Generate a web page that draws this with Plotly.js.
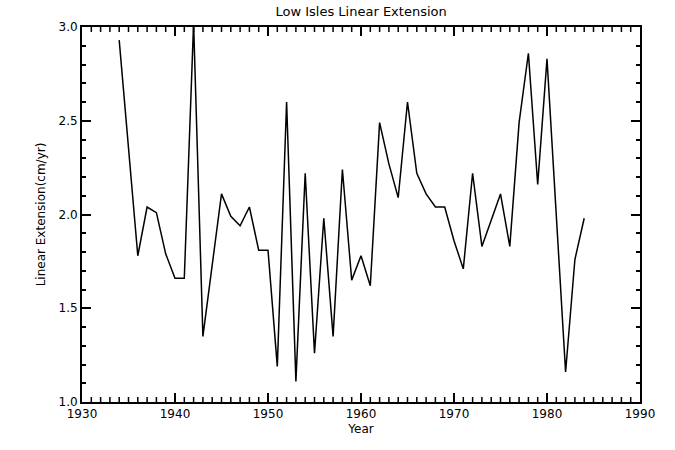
<!DOCTYPE html>
<html>
<head>
<meta charset="utf-8">
<script src="https://cdn.plot.ly/plotly-3.0.1.min.js"></script>
<style>html,body{margin:0;padding:0;background:#fff;}#chart{width:675px;height:450px;}</style>
</head>
<body>
<div id="chart"></div>
<script>
var years = [1934,1935,1936,1937,1938,1939,1940,1941,1942,1943,1944,1945,1946,1947,1948,1949,1950,
             1951,1952,1953,1954,1955,1956,1957,1958,1959,1960,1961,1962,1963,1964,1965,1966,1967,
             1968,1969,1970,1971,1972,1973,1974,1975,1976,1977,1978,1979,1980,1981,1982,1983,1984];
var extension = [2.93,2.36,1.78,2.04,2.01,1.79,1.66,1.66,3.02,1.35,1.73,2.11,1.99,1.94,2.04,1.81,1.81,
                 1.19,2.60,1.11,2.22,1.26,1.98,1.35,2.24,1.65,1.78,1.62,2.49,2.27,2.09,2.60,2.22,2.11,
                 2.04,2.04,1.86,1.71,2.22,1.83,1.97,2.11,1.83,2.49,2.86,2.16,2.83,1.98,1.16,1.76,1.98];

// minor tick positions on the x axis (one per year, skipping the labelled decades)
var minorYears = [];
for (var yr = 1931; yr < 1990; yr++) { if (yr % 10 !== 0) minorYears.push(yr); }

var minorShapes = [];
minorYears.forEach(function(v){
  // bottom edge, pointing up into the plot
  minorShapes.push({type: 'line', xref: 'x', yref: 'paper', ysizemode: 'pixel', yanchor: 0,
                    x0: v, x1: v, y0: 0, y1: 5, line: {color: '#000', width: 1.5}});
  // top edge, pointing down into the plot
  minorShapes.push({type: 'line', xref: 'x', yref: 'paper', ysizemode: 'pixel', yanchor: 1,
                    x0: v, x1: v, y0: 0, y1: -5, line: {color: '#000', width: 1.5}});
});

var fnt = {family: 'DejaVu Sans, sans-serif', size: 12, color: '#000'};
var trace = {x: years, y: extension, type: 'scatter', mode: 'lines',
             line: {color: '#000', width: 1.5}, hoverinfo: 'none'};
var layout = {
  width: 675, height: 450,
  margin: {l: 82, r: 35, t: 27, b: 48},
  paper_bgcolor: '#fff', plot_bgcolor: '#fff',
  showlegend: false,
  shapes: minorShapes,
  title: {text: 'Low Isles Linear Extension', font: {family: 'DejaVu Sans, sans-serif', size: 13, color: '#000'},
          x: 0.535, xanchor: 'center', y: 0.985, yanchor: 'top'},
  xaxis: {
    range: [1930, 1990], dtick: 10,
    showgrid: false, zeroline: false, showline: true, linecolor: '#000', linewidth: 2,
    mirror: 'ticks', ticks: 'inside', ticklen: 9, tickwidth: 2, tickcolor: '#000', tickfont: fnt,
    title: {text: 'Year', font: fnt, standoff: 4}
  },
  yaxis: {
    range: [1.0, 3.0], dtick: 0.5, tickformat: '.1f',
    showgrid: false, zeroline: false, showline: true, linecolor: '#000', linewidth: 2,
    mirror: 'ticks', ticks: 'inside', ticklen: 9, tickwidth: 2, tickcolor: '#000', tickfont: fnt,
    minor: {dtick: 0.1, ticks: 'inside', ticklen: 4, tickcolor: '#000', showgrid: false},
    title: {text: 'Linear Extension(cm/yr)', font: fnt, standoff: 10}
  }
};
Plotly.newPlot('chart', [trace], layout, {displayModeBar: false});
</script>
</body>
</html>
